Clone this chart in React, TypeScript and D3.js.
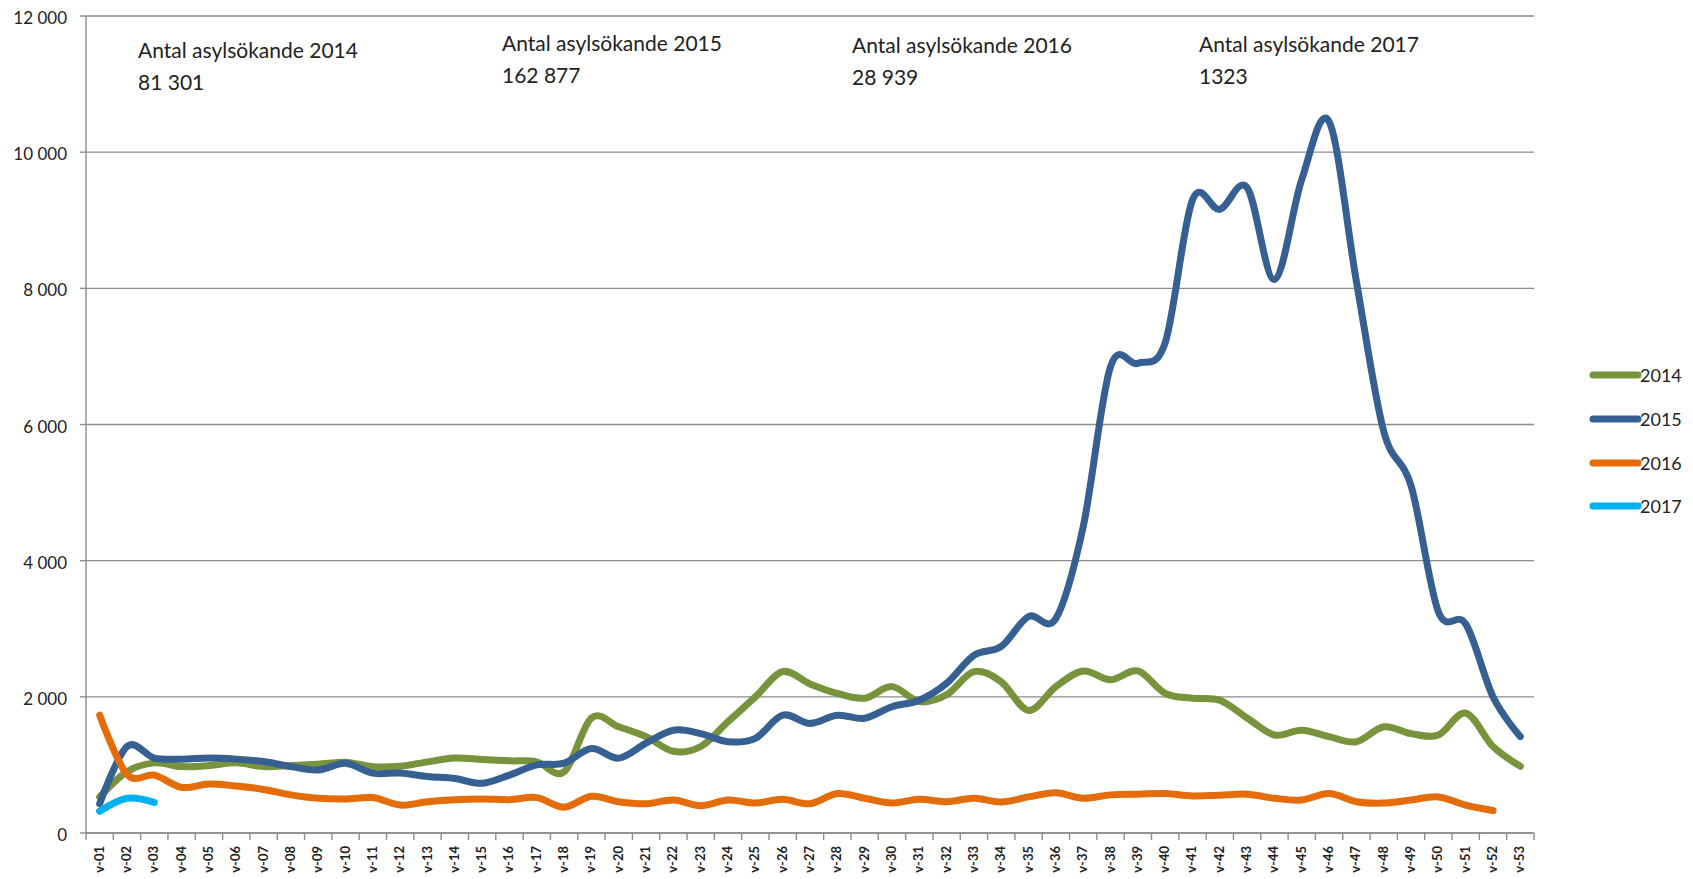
import * as d3 from "d3";

const weeks = [
  "v-01", "v-02", "v-03", "v-04", "v-05", "v-06", "v-07", "v-08", "v-09", "v-10",
  "v-11", "v-12", "v-13", "v-14", "v-15", "v-16", "v-17", "v-18", "v-19", "v-20",
  "v-21", "v-22", "v-23", "v-24", "v-25", "v-26", "v-27", "v-28", "v-29", "v-30",
  "v-31", "v-32", "v-33", "v-34", "v-35", "v-36", "v-37", "v-38", "v-39", "v-40",
  "v-41", "v-42", "v-43", "v-44", "v-45", "v-46", "v-47", "v-48", "v-49", "v-50",
  "v-51", "v-52", "v-53",
];

const values2014 = [
  530, 900, 1030, 975, 990, 1030, 975, 990, 1010, 1040,
  975, 980, 1045, 1100, 1080, 1060, 1045, 900, 1690, 1560,
  1415, 1200, 1270, 1635, 2000, 2370, 2190, 2050, 1980, 2150,
  1930, 2030, 2370, 2220, 1800, 2150, 2380, 2250, 2380, 2050,
  1980, 1950, 1690, 1440, 1510, 1415, 1340, 1560, 1460, 1440,
  1760, 1270, 980,
];

const values2015 = [
  430, 1270, 1100, 1085, 1100, 1085, 1050, 975, 925, 1025,
  880, 880, 830, 800, 730, 850, 1000, 1025, 1240, 1100,
  1320, 1510, 1460, 1340, 1390, 1730, 1610, 1730, 1685, 1855,
  1950, 2200, 2610, 2740, 3180, 3150, 4500, 6850, 6900, 7200,
  9300, 9160, 9480, 8130, 9600, 10450, 8100, 5900, 5100, 3250,
  3070, 2000, 1415,
];

const values2016 = [
  1730, 860, 850, 670, 720, 690, 640, 560, 510, 500,
  520, 410, 460, 490, 500, 490, 520, 380, 540, 460,
  430, 485, 400, 485, 440, 495, 430, 580, 510, 440,
  495, 460, 510, 455, 530, 590, 510, 560, 570, 580,
  545, 555, 570, 510, 485, 580, 460, 440, 485, 530,
  410, 330,
];

const values2017 = [320, 510, 450];

const seriesNames = ["2014", "2015", "2016", "2017"];
const seriesColors = ["#77933c", "#376092", "#e46c0a", "#00b0f0"];

const yTicks = [0, 2000, 4000, 6000, 8000, 10000, 12000];

const annotationTitles = [
  "Antal asylsökande 2014",
  "Antal asylsökande 2015",
  "Antal asylsökande 2016",
  "Antal asylsökande 2017",
];
const annotationTotals = ["81 301", "162 877", "28 939", "1323"];

const fmt = d3.formatLocale({ decimal: ",", thousands: " ", grouping: [3], currency: ["", ""] }).format(",");

function App() {
  const left = 86, right = 1534, top = 16, bottom = 833;
  const font = "Lato, 'Open Sans', sans-serif";

  const x = d3.scaleBand().domain(weeks).range([left, right]);
  const y = d3.scaleLinear().domain([0, 12000]).range([bottom, top]);
  const cx = (w: string) => x(w)! + x.bandwidth() / 2;

  const allSeries = [values2014, values2015, values2016, values2017];
  const line = d3
    .line<number>()
    .x((_, i) => cx(weeks[i]))
    .y((v) => y(v))
    .curve(d3.curveCatmullRom.alpha(0));

  // annotation anchor points (x, first baseline)
  const annPos = [
    [138, 58],
    [502, 51],
    [852, 53],
    [1199, 52],
  ];

  const legendX = 1593;
  const legendY = [375, 419, 463, 506];

  return (
    <svg width={1693} height={879} style={{ position: "absolute", left: 0, top: 0, background: "#ffffff" }}>
      {/* gridlines + y labels */}
      {yTicks.map((t) => (
        <g key={t}>
          <line x1={left} x2={right} y1={y(t)} y2={y(t)} stroke="#8c8c8c" strokeWidth={1.4} />
          <line x1={left - 6} x2={left} y1={y(t)} y2={y(t)} stroke="#8c8c8c" strokeWidth={1.4} />
          <text x={67} y={y(t) + 8} textAnchor="end" fontSize={17} fontFamily={font} fill="#222">
            {fmt(t)}
          </text>
        </g>
      ))}

      {/* axes */}
      <line x1={left} x2={left} y1={top} y2={bottom} stroke="#8c8c8c" strokeWidth={1.4} />
      <line x1={left} x2={right} y1={bottom} y2={bottom} stroke="#8c8c8c" strokeWidth={1.4} />
      {weeks.map((w) => (
        <line key={w} x1={x(w)!} x2={x(w)!} y1={bottom} y2={bottom + 7} stroke="#8c8c8c" strokeWidth={1.4} />
      ))}
      <line x1={right} x2={right} y1={bottom} y2={bottom + 7} stroke="#8c8c8c" strokeWidth={1.4} />

      {weeks.map((w) => (
        <text
          key={w}
          transform={`translate(${cx(w) + 4},${bottom + 13}) rotate(-90)`}
          textAnchor="end"
          fontSize={13}
          fontFamily={font}
          fontWeight="bold"
          fill="#222"
        >
          {w}
        </text>
      ))}

      {/* series */}
      {allSeries.map((s, i) => (
        <path
          key={seriesNames[i]}
          d={line(s)!}
          fill="none"
          stroke={seriesColors[i]}
          strokeWidth={7}
          strokeLinecap="round"
          strokeLinejoin="round"
        />
      ))}

      {/* annotations */}
      {annotationTitles.map((t, i) => (
        <g key={t} fontFamily={font} fontSize={21} fill="#222">
          <text x={annPos[i][0]} y={annPos[i][1]}>{t}</text>
          <text x={annPos[i][0]} y={annPos[i][1] + 32}>{annotationTotals[i]}</text>
        </g>
      ))}

      {/* legend */}
      {seriesNames.map((n, i) => (
        <g key={n}>
          <line
            x1={legendX}
            x2={legendX + 45}
            y1={legendY[i]}
            y2={legendY[i]}
            stroke={seriesColors[i]}
            strokeWidth={7}
            strokeLinecap="round"
          />
          <text x={legendX + 47} y={legendY[i] + 7} fontSize={18} fontFamily={font} fill="#222">
            {n}
          </text>
        </g>
      ))}
    </svg>
  );
}

export default App;
